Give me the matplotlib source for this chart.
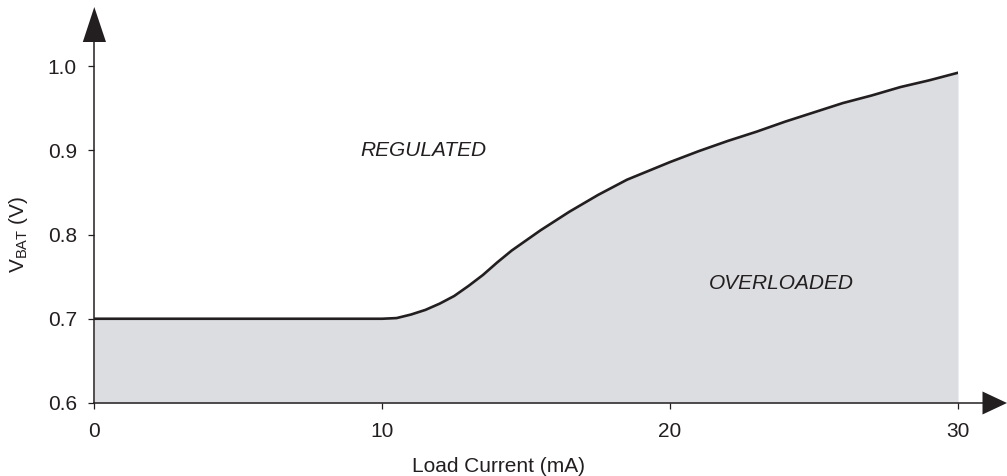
import matplotlib
matplotlib.use("Agg")
import matplotlib.pyplot as plt
from matplotlib.patches import Polygon
from matplotlib.lines import Line2D

plt.rcParams['font.family'] = ['Liberation Sans', 'DejaVu Sans']
plt.rcParams['mathtext.default'] = 'regular'

# Data
load_current = [0, 10, 10.5, 11, 11.5, 12, 12.5, 13, 13.5, 14, 14.5, 15, 15.5,
                16, 16.5, 17, 17.5, 18, 18.5, 19, 19.5, 20, 21, 22, 23, 24, 25,
                26, 27, 28, 29, 30]
vbat = [0.700, 0.700, 0.7008, 0.705, 0.7105, 0.718, 0.727, 0.739, 0.752, 0.767,
        0.781, 0.793, 0.805, 0.816, 0.827, 0.837, 0.847, 0.856, 0.865, 0.872,
        0.879, 0.886, 0.899, 0.911, 0.922, 0.934, 0.945, 0.956, 0.965, 0.975,
        0.983, 0.992]
x_ticks = [0, 10, 20, 30]
y_ticks = [0.6, 0.7, 0.8, 0.9, 1.0]
y_tick_labels = ['0.6', '0.7', '0.8', '0.9', '1.0']

W, H = 1007, 476
fig = plt.figure(figsize=(W / 100, H / 100), dpi=100)
ax = fig.add_axes([94.3 / W, 1 - 403 / H, (958 - 94.3) / W, (403 - 66) / H])

dark = '#231f20'
ax.fill_between(load_current, 0.6, vbat, color='#dcdde0', lw=0)
ax.plot(load_current, vbat, color=dark, lw=1.9, solid_joinstyle='round')

ax.set_xlim(0, 30)
ax.set_ylim(0.6, 1.0)
ax.set_xticks(x_ticks)
ax.set_yticks(y_ticks)
ax.set_yticklabels(y_tick_labels)
for s in ax.spines.values():
    s.set_visible(False)
ax.tick_params(axis='both', direction='out', length=4.5, width=0.9, color=dark,
               labelsize=15, labelcolor=dark)
ax.tick_params(axis='x', pad=9)
ax.tick_params(axis='y', pad=8)

ax.set_xlabel('Load Current (mA)', fontsize=15, color=dark)
ax.xaxis.set_label_coords((498 - 94.3) / (958 - 94.3), -(466 - 403) / (403 - 66))
ax.xaxis.label.set_va('center')
ax.set_ylabel('V$_{BAT}$ (V)', fontsize=15, color=dark)
ax.yaxis.set_label_coords(-(94.3 - 19) / (958 - 94.3), 0.5)
ax.yaxis.label.set_va('center')

ax.text(11.43, 0.900, 'REGULATED', fontsize=15, style='italic', color=dark,
        ha='center', va='center')
ax.text(23.85, 0.742, 'OVERLOADED', fontsize=15, style='italic', color=dark,
        ha='center', va='center')

# Axis lines with arrowheads (pixel coords, origin top-left)
def P(x, y):
    return (x / W, 1 - y / H)

tf = fig.transFigure
fig.add_artist(Line2D([P(94.3, 403)[0], P(94.3, 42)[0]], [P(94.3, 403)[1], P(94.3, 42)[1]],
                      transform=tf, color=dark, lw=1.1))
fig.add_artist(Line2D([P(94.3, 403)[0], P(983, 403)[0]], [P(94.3, 403)[1], P(983, 403)[1]],
                      transform=tf, color=dark, lw=1.1))
fig.add_artist(Polygon([P(82.8, 42), P(106, 42), P(94.3, 7)], closed=True,
                       transform=tf, color=dark, lw=0))
fig.add_artist(Polygon([P(982.5, 391.5), P(982.5, 414.5), P(1007, 403)], closed=True,
                       transform=tf, color=dark, lw=0))

fig.savefig('out.png', dpi=100)
